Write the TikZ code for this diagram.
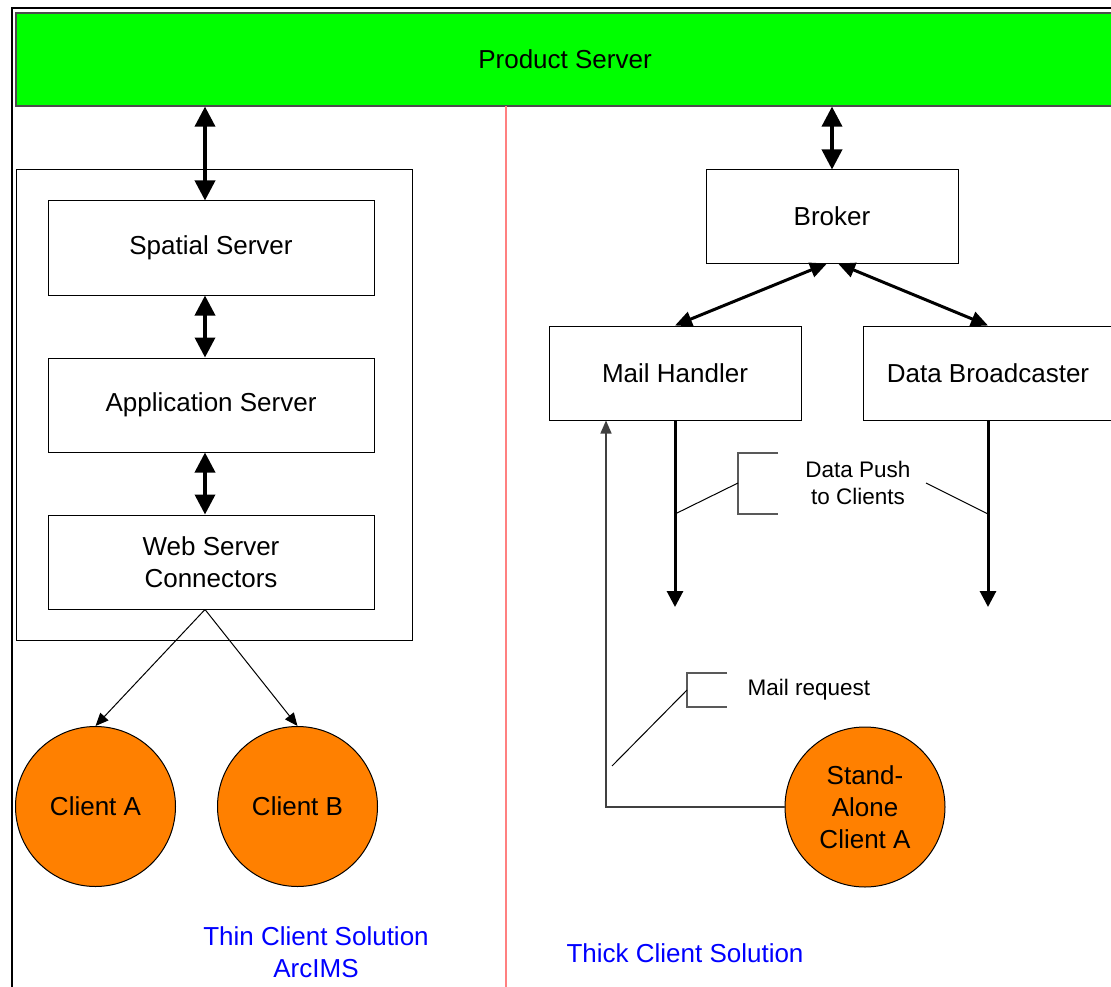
\documentclass[tikz,border=0pt]{standalone}
\usepackage{fontspec}
\setmainfont{Liberation Sans}
\usetikzlibrary{arrows.meta,calc}
\definecolor{prodgreen}{RGB}{0,255,0}
\definecolor{clientorange}{RGB}{255,128,0}
\definecolor{divider}{RGB}{255,128,128}
\definecolor{labelblue}{RGB}{0,0,255}

\begin{document}
\begin{tikzpicture}[x=1pt,y=-1pt,
  big/.style={font=\fontsize{26}{32}\selectfont},
  small/.style={font=\fontsize{22.5}{27}\selectfont},
  box/.style={draw=black, line width=1pt, minimum width=326pt, minimum height=94pt,
              align=center, big, inner sep=0pt},
  client/.style={circle, draw=black, line width=1pt, fill=clientorange,
                 minimum size=160pt, inner sep=0pt, align=center, big},
  dbl/.style={line width=3.6pt,
              {Triangle[length=20pt,width=20pt]}-{Triangle[length=20pt,width=20pt]}},
  brokerarr/.style={line width=3pt,
              {Triangle[length=17pt,width=15pt]}-{Triangle[length=17pt,width=15pt]}},
  pusharr/.style={line width=3pt, -{Triangle[length=16pt,width=16pt]}},
  thinarr/.style={line width=1pt, -{Triangle[length=13pt,width=11pt]}},
  reqarr/.style={line width=1.4pt, draw=black!75, -{Triangle[length=13pt,width=11pt]}},
  bracket/.style={line width=1.4pt, draw=black!65},
  leader/.style={line width=1pt, draw=black},
  bluelabel/.style={big, text=labelblue, align=center}
]
\useasboundingbox (0,0) rectangle (1111,987);

% outer frame (only its top and left edges fall on the page)
\draw[line width=2.4pt] (12,1000) -- (12,8) -- (1130,8);

% product server banner
\node[fill=prodgreen, draw=black!70, line width=1.2pt, minimum width=1098pt,
      minimum height=93pt, big] (ps) at (565,59.5) {Product Server};

% divider between the two solutions
\draw[divider, line width=1.3pt] (506,106) -- (506,995);

% ---------------- thin client side ----------------
\node[draw=black, line width=1pt, minimum width=396pt, minimum height=470pt] (thin) at (214,405) {};
\node[box] (ss)  at (211,248) {Spatial Server};
\node[box] (as)  at (211,405) {Application Server};
\node[box] (wsc) at (211,562) {Web Server\\Connectors};

\coordinate (a1) at ([xshift=-6pt]ss.north);
\coordinate (a2) at ([xshift=-6pt]as.north);
\coordinate (a3) at ([xshift=-6pt]wsc.north);
\coordinate (a4) at ([xshift=-6pt]wsc.south);
\draw[dbl] (a1 |- ps.south) -- (a1);
\draw[dbl] (a2 |- ss.south) -- (a2);
\draw[dbl] (a3 |- as.south) -- (a3);

\node[client] (ca) at (95.5,806.5) {Client A};
\node[client] (cb) at (297.5,806.5) {Client B};
\draw[thinarr] (a4) -- (ca.north);
\draw[thinarr] (a4) -- (cb.north);

\node[bluelabel] (thinlbl) at (316,952) {Thin Client Solution\\ArcIMS};

% ---------------- thick client side ----------------
\node[box, minimum width=252pt, minimum height=93pt] (br) at (832,216.5) {Broker};
\node[box, minimum width=252pt] (ml) at (675,373) {Mail Handler};
\node[box, minimum width=250pt] (db) at (988,373) {Data Broadcaster};

\draw[dbl] (br.north |- ps.south) -- (br.north);
\coordinate (b1) at ([xshift=-5pt]br.south);
\coordinate (b2) at ([xshift=6pt]br.south);
\draw[brokerarr] (b1) -- (ml.north);
\draw[brokerarr] (b2) -- (db.north);

\coordinate (mlend) at (675,607);
\coordinate (dbend) at (988,607);
\draw[pusharr] (ml.south) -- (mlend);
\draw[pusharr] (db.south) -- (dbend);

% data push callout
\node[small, align=center] (dp) at (858,483) {Data Push\\to Clients};
\draw[bracket] (778,453) -- (738,453) -- (738,514) -- (778,514);
\draw[leader] (738,483) -- (675,514);
\draw[leader] (926,483) -- (988,514);

% stand-alone client and its mail request
\node[client] (sa) at (865,807) {Stand-\\Alone\\Client A};
\coordinate (mreq) at ([xshift=-69pt]ml.south);
\draw[reqarr] (sa.west) -| (mreq);

\node[small] (mr) at (809,690) {Mail request};
\draw[bracket] (727,673) -- (687,673) -- (687,707) -- (727,707);
\draw[leader] (687,690) -- (612,766);

\node[bluelabel] (thicklbl) at (685,953) {Thick Client Solution};
\end{tikzpicture}
\end{document}
